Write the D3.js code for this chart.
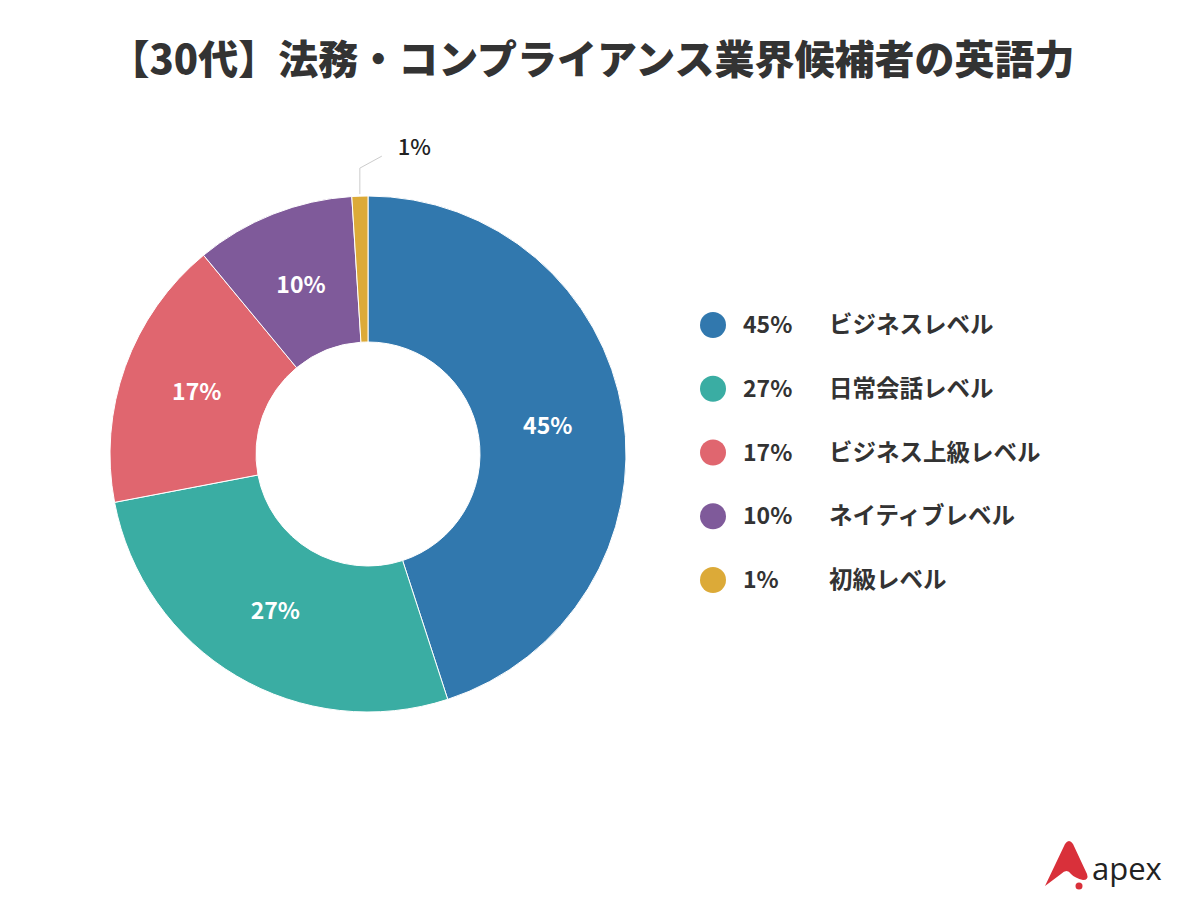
<!DOCTYPE html>
<html><head><meta charset="utf-8">
<script src="https://cdn.jsdelivr.net/npm/d3@7"></script>
<style>body{margin:0;background:#fff}svg{display:block}</style>
</head><body>
<script>
var categories = ['ビジネスレベル', '日常会話レベル', 'ビジネス上級レベル', 'ネイティブレベル', '初級レベル'];
var values = [45, 27, 17, 10, 1];
var colors = ['#3178ae', '#3aada3', '#e0666f', '#7f5a9a', '#dcaa38'];

var W = 1200, H = 918, FONT = '"Noto Sans CJK JP", "Noto Sans", sans-serif';
var svg = d3.select('body').append('svg').attr('width', W).attr('height', H);

svg.append('text').attr('x', 592).attr('y', 74).attr('text-anchor', 'middle')
  .style('font-family', FONT).style('font-weight', 900).style('font-size', '40px')
  .attr('fill', '#333').text('【30代】法務・コンプライアンス業界候補者の英語力');

var cx = 368, cy = 454, R = 258, r = 112;
var pie = d3.pie().sort(null).value(function(d) { return d; });
var arcs = pie(values);
var arc = d3.arc().innerRadius(r).outerRadius(R);
var g = svg.append('g').attr('transform', 'translate(' + cx + ',' + cy + ')');

g.selectAll('path').data(arcs).enter().append('path')
  .attr('d', arc).attr('fill', function(d, i) { return colors[i]; })
  .attr('stroke', '#fff').attr('stroke-width', 1);

var labelArc = d3.arc().innerRadius(182).outerRadius(182);
g.selectAll('text.v').data(arcs.filter(function(d) { return d.data >= 5; })).enter()
  .append('text').attr('class', 'v')
  .attr('transform', function(d) { return 'translate(' + labelArc.centroid(d) + ')'; })
  .attr('text-anchor', 'middle').attr('dy', '0.35em')
  .style('font-family', FONT).style('font-weight', 700).style('font-size', '23px')
  .attr('fill', '#fff').text(function(d) { return d.data + '%'; });

// small slice: leader line
var small = arcs[4];
var a = (small.startAngle + small.endAngle) / 2;
var p0 = [Math.sin(a) * (R + 2), -Math.cos(a) * (R + 2)];
var p1 = [p0[0], p0[1] - 26];
var p2 = [p0[0] + 22, p0[1] - 38];
g.append('polyline').attr('points', [p0, p1, p2].join(' '))
  .attr('fill', 'none').attr('stroke', '#ccc').attr('stroke-width', 1);
g.append('text').attr('x', p2[0] + 16).attr('y', p2[1] - 1)
  .style('font-family', FONT).style('font-weight', 500).style('font-size', '22px')
  .attr('fill', '#222').text(small.data + '%');

// legend
var lg = svg.append('g');
var ly = d3.scalePoint().domain(categories).range([325, 580]);
var items = lg.selectAll('g').data(categories).enter().append('g')
  .attr('transform', function(d) { return 'translate(0,' + ly(d) + ')'; });
items.append('circle').attr('cx', 713).attr('r', 13)
  .attr('fill', function(d, i) { return colors[i]; });
items.append('text').attr('x', 743).attr('dy', '0.35em')
  .style('font-family', FONT).style('font-weight', 700).style('font-size', '23px')
  .attr('fill', '#333').text(function(d, i) { return values[i] + '%'; });
items.append('text').attr('x', 829).attr('dy', '0.35em')
  .style('font-family', FONT).style('font-weight', 700).style('font-size', '23.5px')
  .attr('fill', '#333').text(function(d) { return d; });

// logo
var logo = svg.append('g').attr('transform', 'translate(1045,840)');
logo.append('path').attr('d', 'M0,46 L20,4 Q24,-2 28,4 L42,34 Q44,40 38,40 Q30,38 26,34 Q22,28 16,34 Z')
  .attr('fill', '#d9303a');
logo.append('circle').attr('cx', 34).attr('cy', 46).attr('r', 3.5).attr('fill', '#d9303a');
logo.append('text').attr('x', 47).attr('y', 40)
  .style('font-family', '"Open Sans", sans-serif').style('font-size', '31px')
  .attr('fill', '#222').text('apex');
</script>
</body></html>
